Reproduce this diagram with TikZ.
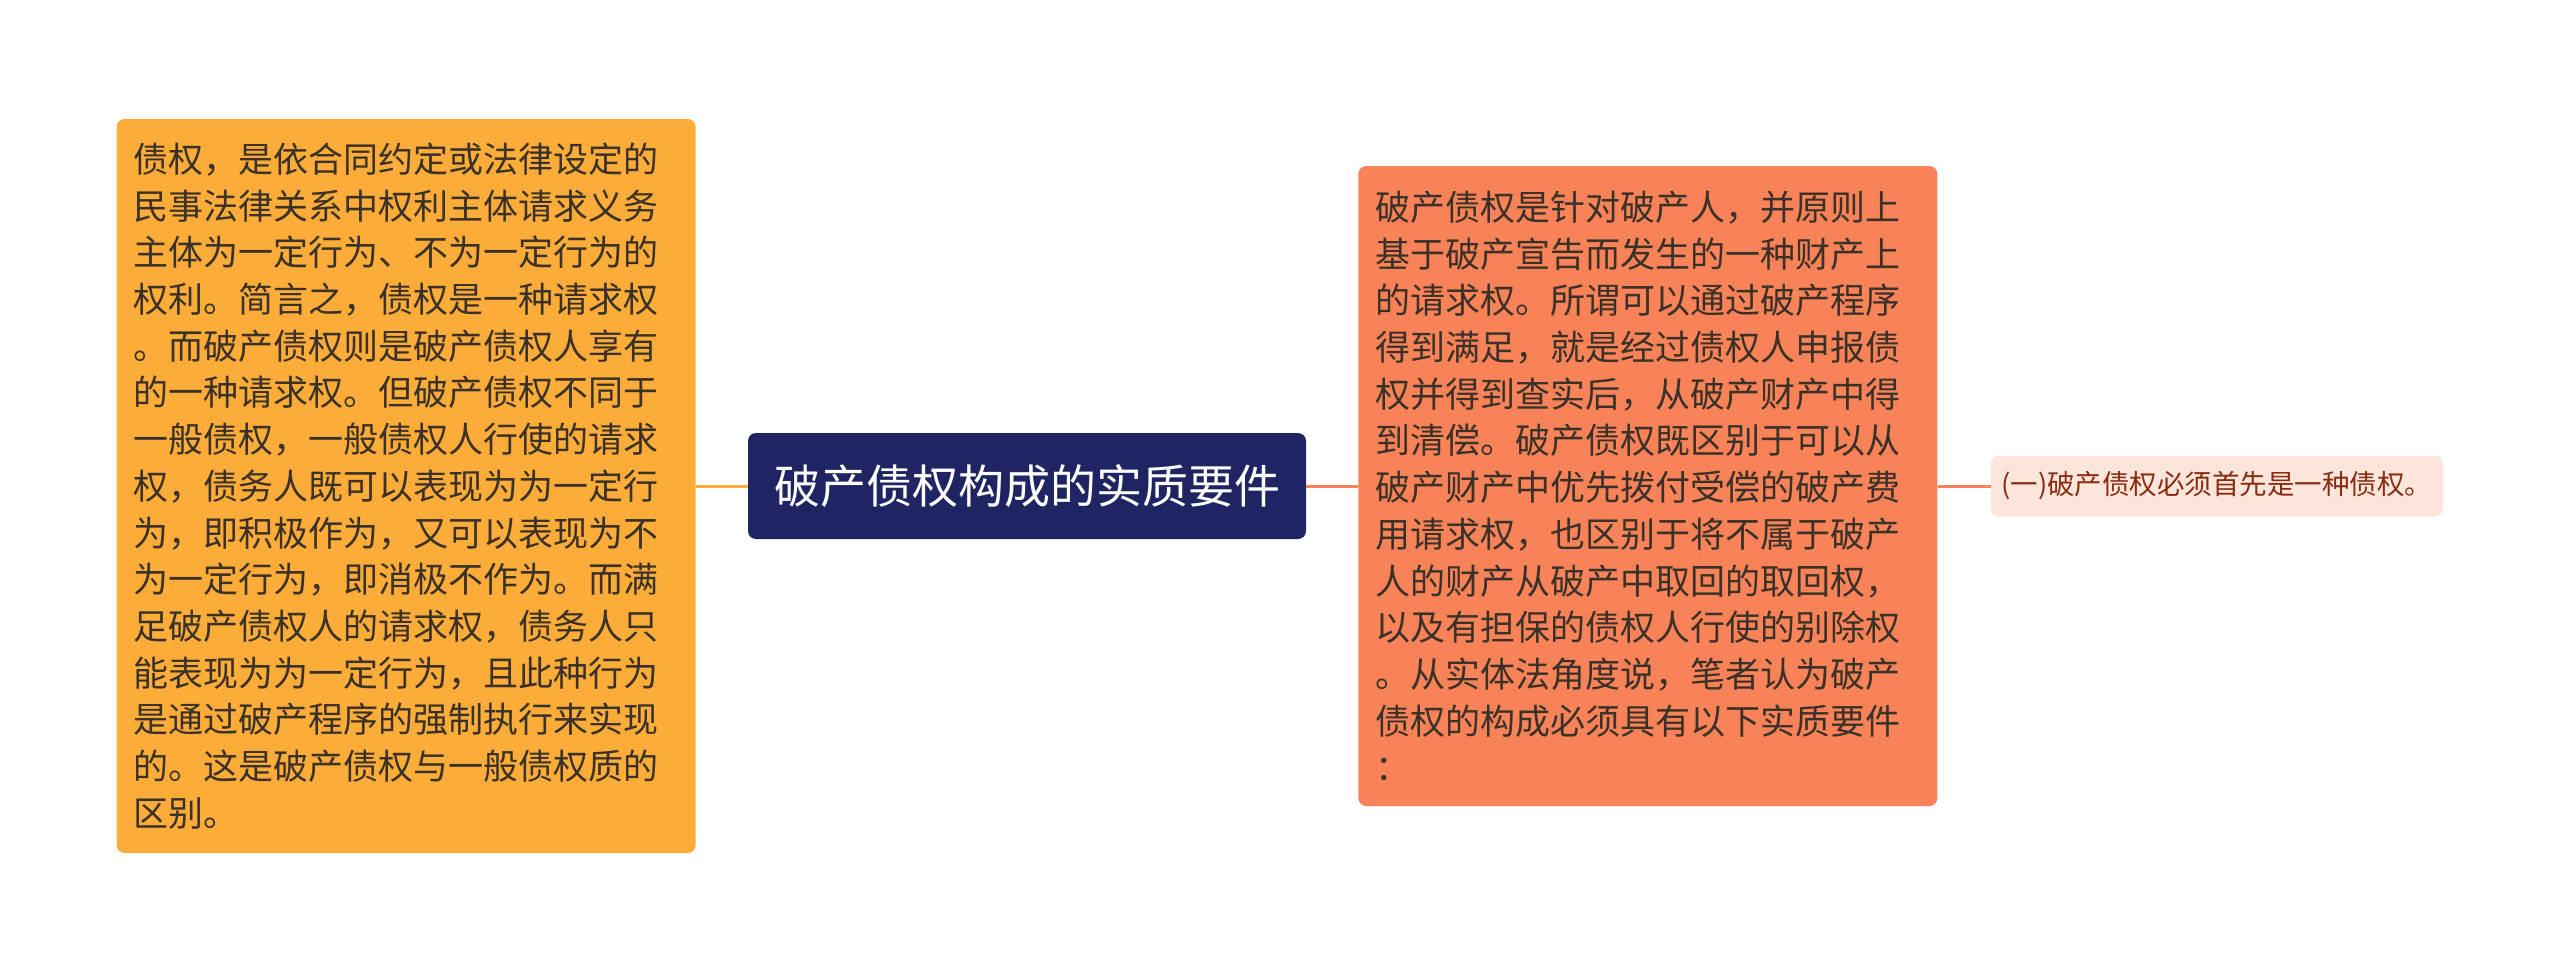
\documentclass[tikz,border=0pt]{standalone}
\usepackage{fontspec}
\setmainfont{Noto Sans CJK SC}
\usetikzlibrary{positioning}

\definecolor{rootblue}{HTML}{1F2563}
\definecolor{claimorange}{HTML}{FCAC38}
\definecolor{bankcoral}{HTML}{F98358}
\definecolor{subpink}{HTML}{FCE5DB}
\definecolor{subtext}{HTML}{8A2C10}
\definecolor{notetext}{HTML}{3A3128}

\tikzset{
  note/.style={rounded corners=8pt, align=left, text width=545pt, inner xsep=17pt,
    font=\fontsize{35}{46.7}\selectfont, text=notetext},
}

\begin{document}
\begin{tikzpicture}[x=1pt, y=1pt,
  root/.style={fill=rootblue, rounded corners=8pt, text=white, minimum width=558pt,
    minimum height=106pt, font=\fontsize{46}{50}\selectfont},
  leftnote/.style={note, fill=claimorange, minimum height=734pt},
  rightnote/.style={note, fill=bankcoral, minimum height=640pt},
  subnote/.style={fill=subpink, rounded corners=8pt, text=subtext, minimum width=452pt,
    minimum height=61pt, font=\fontsize{27.5}{30}\selectfont},
  leftlink/.style={draw=claimorange, line width=3pt},
  rightlink/.style={draw=bankcoral, line width=3pt}]
\useasboundingbox (0,0) rectangle (2560,-969);

\node[root] (root) at (1027,-486) {破产债权构成的实质要件};

% left branch
\node[leftnote, left=52pt of root] (claim) {债权，是依合同约定或法律设定的\\
民事法律关系中权利主体请求义务\\
主体为一定行为、不为一定行为的\\
权利。简言之，债权是一种请求权\\
。而破产债权则是破产债权人享有\\
的一种请求权。但破产债权不同于\\
一般债权，一般债权人行使的请求\\
权，债务人既可以表现为为一定行\\
为，即积极作为，又可以表现为不\\
为一定行为，即消极不作为。而满\\
足破产债权人的请求权，债务人只\\
能表现为为一定行为，且此种行为\\
是通过破产程序的强制执行来实现\\
的。这是破产债权与一般债权质的\\
区别。};

% right branch
\node[rightnote, right=52pt of root] (bankclaim) {破产债权是针对破产人，并原则上\\
基于破产宣告而发生的一种财产上\\
的请求权。所谓可以通过破产程序\\
得到满足，就是经过债权人申报债\\
权并得到查实后，从破产财产中得\\
到清偿。破产债权既区别于可以从\\
破产财产中优先拨付受偿的破产费\\
用请求权，也区别于将不属于破产\\
人的财产从破产中取回的取回权，\\
以及有担保的债权人行使的别除权\\
。从实体法角度说，笔者认为破产\\
债权的构成必须具有以下实质要件\\
：};
\node[subnote, right=53pt of bankclaim] (first) {(一)破产债权必须首先是一种债权。};

\path[leftlink] (claim) -- (root);
\path[rightlink] (root) -- (bankclaim);
\path[rightlink] (bankclaim) -- (first);
\end{tikzpicture}
\end{document}
